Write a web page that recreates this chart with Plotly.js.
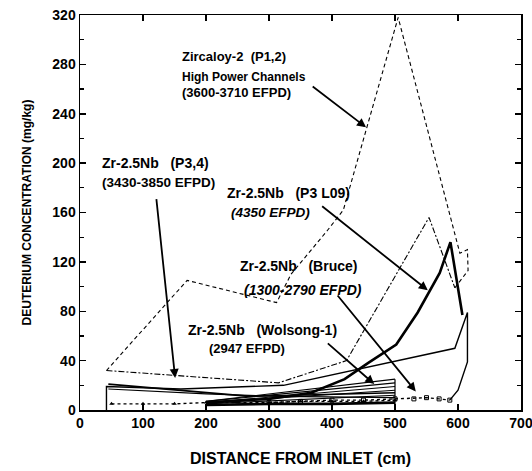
<!DOCTYPE html>
<html>
<head>
<meta charset="utf-8">
<script src="https://cdn.plot.ly/plotly-3.0.1.min.js"></script>
<style>html,body{margin:0;padding:0;background:#fff;}#chart{width:532px;height:471px;}</style>
</head>
<body>
<div id="chart"></div>
<script>
// Zircaloy-2 (P1,2) high power channels
const zr2X = [42, 170, 312, 335, 392, 418, 505, 603, 615, 616, 604, 595];
const zr2Y = [32, 105, 87, 110, 145, 162, 318, 127, 130, 113, 105, 99];
// Zr-2.5Nb (P3,4)
const p34X = [42, 315, 423, 554, 595];
const p34Y = [32, 22, 40, 156, 99];
// Zr-2.5Nb (P3 L09) bold curve
const l09X = [200, 300, 367, 420, 457, 502, 536, 571, 588, 607];
const l09Y = [6, 9, 14, 25, 38, 53, 79, 111, 136, 77];
// thin solid outer line
const outerX = [42, 42, 160, 323, 595, 615, 615, 600, 587];
const outerY = [0, 19, 17, 20, 50, 79, 39, 16, 8];
// Bruce fan lines (start / end values)
const fanStartX = [200, 200, 200, 200, 200];
const fanStartY = [5, 6, 6, 7, 7];
const fanEndX = [500, 500, 500, 500, 500];
const fanEndY = [12, 16, 19, 22, 25];
// other low lines
const lowAX = [45, 270, 500];
const lowAY = [21, 11, 14];
const lowBX = [45, 200, 320, 500];
const lowBY = [17, 13, 11, 10];
// Wolsong-1 dotted with markers
const wolX = [50, 100, 150, 200, 250, 300, 350, 400, 450, 500];
const wolY = [5, 5, 5, 6, 6, 6, 7, 7, 7, 8];
const wol2X = [300, 350, 400, 450, 500, 530, 550, 570, 587];
const wol2Y = [6, 7, 8, 8, 9, 9, 10, 9, 8];
const boldLowX = [200, 300, 400, 500];
const boldLowY = [4, 5, 5, 6];
const endX = [500, 500];
const endY = [0, 25];

const xTicks = [0, 100, 200, 300, 400, 500, 600, 700];
const yTicks = [0, 40, 80, 120, 160, 200, 240, 280, 320];

const traces = [];
function ln(x, y, width, dash, extra) {
  traces.push(Object.assign({x: x, y: y, type: 'scatter', mode: 'lines',
    line: {color: '#000', width: width, dash: dash}, hoverinfo: 'skip'}, extra || {}));
}
ln(zr2X, zr2Y, 1.1, '4px,3px');
ln(p34X, p34Y, 1.1, '6px,2px,2px,2px');
ln(l09X, l09Y, 2.6, 'solid');
ln(outerX, outerY, 1.4, 'solid');
for (let i = 0; i < fanStartX.length; i++) {
  ln([fanStartX[i], fanEndX[i]], [fanStartY[i], fanEndY[i]], 1.1, 'solid');
}
ln(lowAX, lowAY, 1.6, 'solid');
ln(lowBX, lowBY, 1.2, 'solid');
ln(wolX, wolY, 1.4, 'dot', {mode: 'lines+markers', marker: {symbol: 'triangle-up', size: 4, color: '#000'}});
ln(wol2X, wol2Y, 1.4, 'dot', {mode: 'lines+markers', marker: {symbol: 'square-open', size: 4, color: '#000'}});
ln(boldLowX, boldLowY, 2.6, 'solid');
ln(endX, endY, 1.2, 'solid');

const F = 'Liberation Sans, Arial, sans-serif';
const SP3 = '&nbsp;&nbsp;&nbsp;';
function txt(x, y, t, size, italic) {
  return {x: x, y: y, xref: 'x', yref: 'y', text: italic ? '<i>' + t + '</i>' : t,
    showarrow: false, xanchor: 'left', yanchor: 'middle',
    font: {family: F, size: size, color: '#000', weight: 'bold'}};
}
function arr(tx, ty, hx, hy) {
  return {x: hx, y: hy, ax: tx, ay: ty, xref: 'x', yref: 'y', axref: 'x', ayref: 'y',
    text: '', showarrow: true, arrowhead: 2, arrowsize: 1, arrowwidth: 1.8, arrowcolor: '#000', standoff: 0};
}

const annotations = [
  txt(158, 286, 'Zircaloy-2&nbsp;&nbsp;(P1,2)', 13),
  txt(158, 270, 'High Power Channels', 12),
  txt(158, 257, '(3600-3710 EFPD)', 13),
  txt(31, 200, 'Zr-2.5Nb' + SP3 + '(P3,4)', 14),
  txt(31, 184, '(3430-3850 EFPD)', 13.5),
  txt(230, 176, 'Zr-2.5Nb' + SP3 + '(P3 L09)', 14),
  txt(236, 160, '(4350 EFPD)', 13.5, true),
  txt(251, 117, 'Zr-2.5Nb' + SP3 + '(Bruce)', 14),
  txt(257, 97, '(1300-2790 EFPD)', 14, true),
  txt(168, 65, 'Zr-2.5Nb' + SP3 + '(Wolsong-1)', 14),
  txt(202, 50, '(2947 EFPD)', 13),
  arr(367, 263, 454, 229),
  arr(121, 172, 151, 26),
  arr(382, 166, 552, 97),
  arr(407, 94, 533, 15),
  arr(391, 55, 467, 21)
];

const axisCommon = {
  showline: true, linecolor: '#000', linewidth: 1.5, mirror: 'ticks',
  ticks: 'inside', ticklen: 6, tickwidth: 1.5, tickcolor: '#000',
  showgrid: false, zeroline: false, ticklabeloverflow: 'allow',
  tickfont: {family: F, size: 14, color: '#000', weight: 'bold'}
};

const layout = {
  width: 532, height: 471,
  margin: {l: 80, r: 11, t: 15, b: 61},
  paper_bgcolor: '#fff', plot_bgcolor: '#fff',
  showlegend: false, hovermode: false,
  xaxis: Object.assign({}, axisCommon, {
    range: [0, 700], tickvals: xTicks, ticktext: xTicks.map(String),
    title: {text: 'DISTANCE FROM INLET (cm)', standoff: 22,
      font: {family: F, size: 16, color: '#000', weight: 'bold'}}
  }),
  yaxis: Object.assign({}, axisCommon, {
    range: [0, 320], tickvals: yTicks, ticktext: yTicks.map(String),
    minor: {dtick: 20, tick0: 0, ticks: 'inside', ticklen: 4, tickwidth: 1.2, tickcolor: '#000'},
    title: {text: 'DEUTERIUM CONCENTRATION (mg/kg)', standoff: 18,
      font: {family: F, size: 12, color: '#000', weight: 'bold'}}
  }),
  annotations: annotations
};

Plotly.newPlot('chart', traces, layout, {displayModeBar: false, staticPlot: true});
</script>
</body>
</html>
